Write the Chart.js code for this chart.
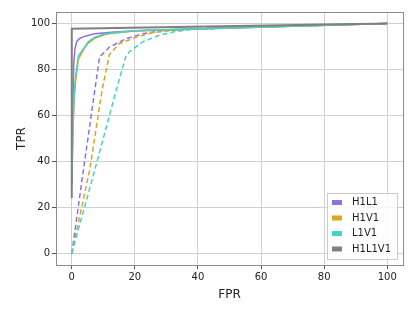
<!DOCTYPE html>
<html>
<head>
<meta charset="utf-8">
<script src="https://cdn.jsdelivr.net/npm/chart.js@4"></script>
<style>
  html, body { margin: 0; padding: 0; background: #fff; }
  #wrap { width: 415px; height: 311px; }
</style>
</head>
<body>
<div id="wrap"><canvas id="roc" width="415" height="311"></canvas></div>
<script>
// series names and colours
const detectors = ['H1L1', 'H1V1', 'L1V1', 'H1L1V1'];
const colores = ['#9370db', '#daa520', '#48d1cc', '#808080'];

// solid curves (FPR, TPR)
const fprH1L1 = [0, 0.3, 0.6, 1.0, 1.6, 2.5, 4.2, 7.3, 12.5, 20, 30, 50, 75, 100];
const tprH1L1 = [30, 60, 82, 89, 92.2, 93.5, 94.5, 95.5, 96.2, 96.8, 97.3, 98.0, 99.0, 100];
const fprH1V1 = [0, 0.4, 0.8, 1.3, 2.1, 3.7, 5.2, 7.3, 10.5, 13.6, 20, 30, 50, 75, 100];
const tprH1V1 = [30, 55, 68, 76, 84.5, 88.5, 91.5, 93.6, 95.2, 95.9, 96.7, 97.3, 98.0, 99.0, 100];
const fprL1V1 = [0, 0.4, 0.8, 1.2, 2.1, 3.7, 5.2, 7.3, 10.5, 13.6, 20, 30, 50, 75, 100];
const tprL1V1 = [30, 57, 70, 77, 86, 89, 92, 94, 95.5, 96, 96.8, 97.3, 98.0, 99.0, 100];
const fprH1L1V1 = [0, 0, 100];
const tprH1L1V1 = [24, 97.7, 100];

// dashed curves (FPR, TPR)
const fprH1L1d = [0, 3.7, 7.3, 8.8, 11.9, 17.2, 22.4, 27.6, 40, 60, 100];
const tprH1L1d = [0, 36.4, 71, 85.4, 89.7, 93.4, 95.5, 96.7, 97.8, 98.8, 100];
const fprH1V1d = [0, 5.7, 9.6, 11.9, 15, 20.3, 25.5, 32, 45, 65, 100];
const tprH1V1d = [0, 36.4, 71, 86.4, 91.2, 94, 96, 97, 97.9, 98.8, 100];
const fprL1V1d = [0, 7.3, 14.1, 17.2, 18.2, 22.4, 27.6, 32.8, 38, 50, 70, 100];
const tprL1V1d = [0, 36.4, 71, 86, 87.6, 92, 94.8, 96.5, 97.4, 98, 98.8, 100];

const ticks = [0, 20, 40, 60, 80, 100];

const puntos = (xs, ys) => xs.map((x, i) => ({ x: x, y: ys[i] }));

const linea = (label, xs, ys, color, dashed, order, width) => ({
    label: label,
    data: puntos(xs, ys),
    borderColor: color,
    backgroundColor: color,
    borderWidth: width,
    borderDash: dashed ? [5, 3] : [],
    pointRadius: 0,
    tension: 0,
    fill: false,
    order: order
});

const datasets = [
    linea('H1L1', fprH1L1, tprH1L1, colores[0], false, 3, 1.5),
    linea('H1V1', fprH1V1, tprH1V1, colores[1], false, 2, 1.5),
    linea('L1V1', fprL1V1, tprL1V1, colores[2], false, 1, 1.5),
    linea('H1L1V1', fprH1L1V1, tprH1L1V1, colores[3], false, 0, 2),
    linea('H1L1 dashed', fprH1L1d, tprH1L1d, colores[0], true, 6, 1.5),
    linea('H1V1 dashed', fprH1V1d, tprH1V1d, colores[1], true, 5, 1.5),
    linea('L1V1 dashed', fprL1V1d, tprL1V1d, colores[2], true, 4, 1.5)
];

// frame around plot area
const marco = {
    id: 'marco',
    afterDraw(chart) {
        const a = chart.chartArea;
        const ctx = chart.ctx;
        ctx.save();
        ctx.strokeStyle = '#8c8c8c';
        ctx.lineWidth = 1;
        ctx.strokeRect(Math.round(a.left) + 0.5, Math.round(a.top) + 0.5,
            Math.round(a.right - a.left), Math.round(a.bottom - a.top));
        ctx.restore();
    }
};

// legend box in the lower right corner of the plot
const leyenda = {
    id: 'leyenda',
    afterDraw(chart) {
        const a = chart.chartArea;
        const ctx = chart.ctx;
        const w = 70, h = 66;
        const x0 = a.right - 6 - w, y0 = a.bottom - 6 - h;
        ctx.save();
        ctx.fillStyle = 'rgba(255,255,255,0.85)';
        ctx.fillRect(x0, y0, w, h);
        ctx.strokeStyle = '#cccccc';
        ctx.lineWidth = 1;
        ctx.strokeRect(x0 + 0.5, y0 + 0.5, w, h);
        ctx.font = '10px "DejaVu Sans"';
        ctx.textBaseline = 'middle';
        detectors.forEach((d, i) => {
            const y = y0 + 9.5 + i * 15.5;
            ctx.fillStyle = colores[i];
            ctx.fillRect(x0 + 5, y - 2.5, 10, 5);
            ctx.fillStyle = '#222';
            ctx.fillText(d, x0 + 25, y);
        });
        ctx.restore();
    }
};

const ejeTicks = (scale) => { scale.ticks = ticks.map(v => ({ value: v })); };

new Chart(document.getElementById('roc'), {
    type: 'line',
    data: { datasets: datasets },
    options: {
        responsive: false,
        animation: false,
        layout: { padding: { top: 12, right: 12, left: 11, bottom: 5 } },
        plugins: {
            legend: { display: false },
            tooltip: { enabled: false }
        },
        scales: {
            x: {
                type: 'linear',
                min: -5,
                max: 105,
                afterBuildTicks: ejeTicks,
                afterFit: (s) => { s.height = 41; },
                grid: { color: '#d0d0d0', lineWidth: 1, tickLength: 4, tickColor: '#555' },
                border: { display: false },
                ticks: { color: '#222', font: { family: 'DejaVu Sans', size: 10 }, padding: 2, maxRotation: 0 },
                title: { display: true, text: 'FPR', color: '#222', font: { family: 'DejaVu Sans', size: 12 }, padding: { top: 2 } }
            },
            y: {
                type: 'linear',
                min: -5,
                max: 105,
                afterBuildTicks: ejeTicks,
                afterFit: (s) => { s.width = 45; },
                grid: { color: '#d0d0d0', lineWidth: 1, tickLength: 4, tickColor: '#555' },
                border: { display: false },
                ticks: { color: '#222', font: { family: 'DejaVu Sans', size: 10 }, padding: 2 },
                title: { display: true, text: 'TPR', color: '#222', font: { family: 'DejaVu Sans', size: 12 }, padding: { bottom: 2 } }
            }
        }
    },
    plugins: [marco, leyenda]
});
</script>
</body>
</html>
